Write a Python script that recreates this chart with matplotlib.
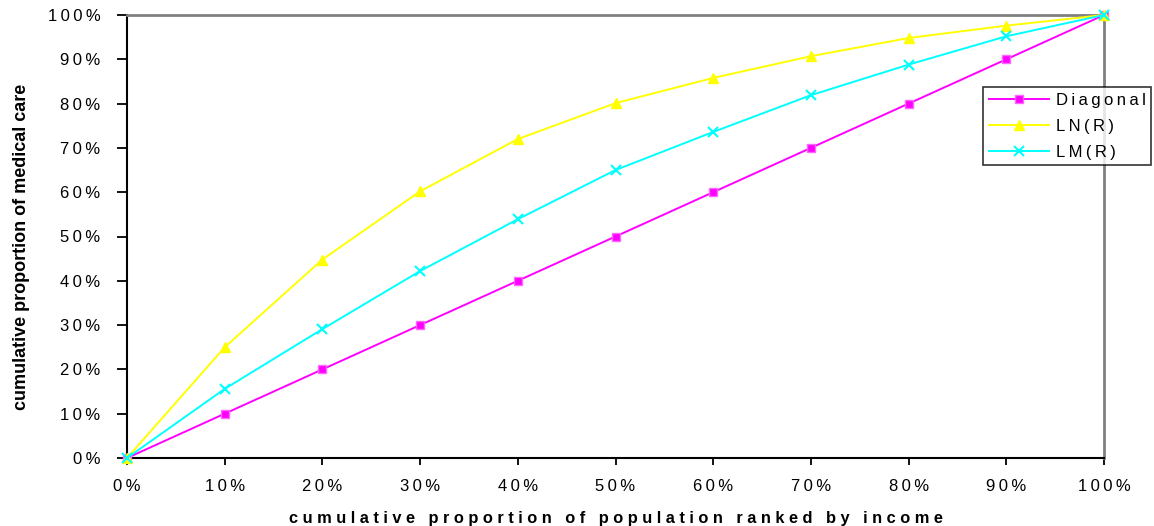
import matplotlib
matplotlib.use('Agg')
import matplotlib.pyplot as plt
from matplotlib.ticker import FuncFormatter

plt.rcParams['font.family'] = ['Liberation Sans', 'DejaVu Sans']

# cumulative proportion of population (%)
pop = [0, 10, 20, 30, 40, 50, 60, 70, 80, 90, 100]
diagonal = [0, 10, 20, 30, 40, 50, 60, 70, 80, 90, 100]
ln_r = [0, 25, 44.8, 60.2, 72, 80.1, 85.8, 90.7, 94.8, 97.6, 100]
lm_r = [0, 15.6, 29.1, 42.2, 53.9, 65, 73.6, 81.9, 88.8, 95.2, 100]
y_ticks = [0, 10, 20, 30, 40, 50, 60, 70, 80, 90, 100]

THIN = '\u2009'


def spaced(s, sep=' '):
    return sep.join(s)


fig = plt.figure(figsize=(11.54, 5.26), dpi=100)
ax = fig.add_axes([127 / 1154, 1 - 458 / 526, (1104 - 127) / 1154, (458 - 15) / 526])

l1, = ax.plot(pop, diagonal, color='#FF00FF', lw=1.4, marker='s', ms=6,
              mfc='#FF00FF', mec='#FF66FF', label=spaced('Diagonal', THIN),
              clip_on=False, zorder=3)
l2, = ax.plot(pop, ln_r, color='#FFFF00', lw=1.4, marker='^', ms=7,
              mfc='#FFFF00', mec='#FFFF00', label=spaced('LN(R)', THIN),
              clip_on=False, zorder=3)
l3, = ax.plot(pop, lm_r, color='#00FFFF', lw=1.4, marker='x', ms=7, mew=1.5,
              label=spaced('LM(R)', THIN), clip_on=False, zorder=3)

ax.set_xlim(0, 100)
ax.set_ylim(0, 100)
ax.set_xticks(pop)
ax.set_yticks(y_ticks)
fmt = FuncFormatter(lambda v, p: spaced(f'{int(v)}%', THIN))
ax.xaxis.set_major_formatter(fmt)
ax.yaxis.set_major_formatter(fmt)
ax.tick_params(axis='y', direction='out', length=7, width=1.3, pad=12, labelsize=12)
ax.tick_params(axis='x', direction='out', length=5, width=1.3, pad=10, labelsize=12)

for s in ['left', 'bottom']:
    ax.spines[s].set_color('black')
    ax.spines[s].set_linewidth(1.5)
for s in ['top', 'right']:
    ax.spines[s].set_color('#808080')
    ax.spines[s].set_linewidth(2)

ax.set_xlabel(spaced('cumulative proportion of population ranked by income'),
              fontsize=11.8, fontweight='bold', labelpad=12)
ax.set_ylabel('cumulative proportion of medical care', fontsize=13,
              fontweight='bold')
ax.yaxis.set_label_coords((30 - 127) / 977, (458 - 247) / 443)

leg = fig.legend(handles=[l1, l2, l3], loc='upper left',
                 bbox_to_anchor=(983 / 1154, 1 - 87 / 526), fontsize=12,
                 frameon=True, fancybox=False, shadow=False, handlelength=3.6,
                 borderpad=0.35, labelspacing=0.65, handletextpad=0.4,
                 borderaxespad=0)
leg.get_frame().set_edgecolor('black')
leg.get_frame().set_linewidth(1.2)

fig.savefig('out.png', dpi=100)
